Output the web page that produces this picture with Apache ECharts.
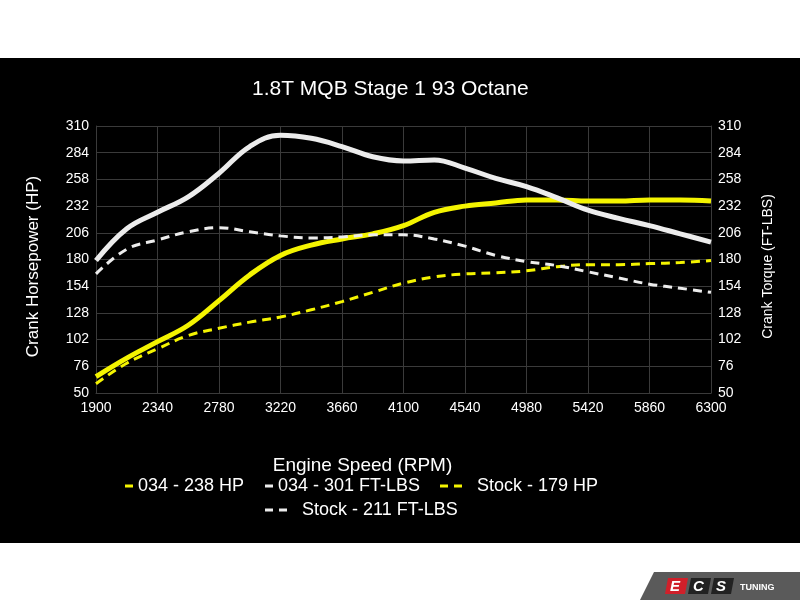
<!DOCTYPE html>
<html>
<head>
<meta charset="utf-8">
<script src="https://cdn.jsdelivr.net/npm/echarts@6/dist/echarts.min.js"></script>
<style>
  html, body { margin: 0; padding: 0; background: #ffffff; }
  #chart { width: 800px; height: 600px; }
</style>
</head>
<body>
<div id="chart"></div>
<script>
// engine speed samples (rpm)
var rpm = [1900, 2120, 2340, 2560, 2780, 3000, 3220, 3440, 3660, 3880, 4100,
           4320, 4540, 4760, 4980, 5200, 5420, 5640, 5860, 6080, 6300];

var hp034     = [66, 84, 100, 116, 140, 165, 184, 194, 200, 205, 213,
                 226, 232, 235, 238, 238, 237, 237, 238, 238, 237];
var tq034     = [179, 210, 226, 241, 264, 290, 301, 298, 290, 280, 276,
                 277, 269, 259, 251, 240, 228, 220, 213, 205, 197];
var hpStock   = [59, 79, 93, 106, 113, 119, 124, 131, 139, 148, 157,
                 163, 166, 167, 169, 173, 175, 175, 176, 177, 179];
var tqStock   = [166, 190, 199, 207, 211, 207, 203, 201, 202, 204, 204,
                 200, 193, 184, 178, 174, 168, 162, 156, 152, 148];

var seriesNames = ['034 - 238 HP', '034 - 301 FT-LBS', 'Stock - 179 HP', 'Stock - 211 FT-LBS'];

function pairs(ys) {
    return rpm.map(function (x, i) { return [x, ys[i]]; });
}

var YELLOW = '#f4f400';
var WHITE = '#ececec';
var FONT = 'Liberation Sans, Arial, sans-serif';
var dashIcon = 'path://M0,0h8v3h-8z M14,0h8v3h-8z';

// one legend box per entry so they sit where the original has them
function legendItem(name, icon, left, top, iconW, textPad) {
    return {
        data: [{ name: name, icon: icon }],
        left: left,
        top: top,
        padding: 0,
        itemWidth: iconW,
        itemHeight: 3,
        itemGap: 0,
        textStyle: { color: '#ffffff', fontSize: 18, fontFamily: FONT, padding: [0, 0, 0, textPad] }
    };
}

var chart = echarts.init(document.getElementById('chart'), null, { renderer: 'canvas' });

var option = {
    backgroundColor: '#ffffff',
    textStyle: { fontFamily: FONT },
    graphic: [
        {
            type: 'rect', z: -10, silent: true,
            shape: { x: 0, y: 58, width: 800, height: 485 },
            style: { fill: '#000000' }
        },
        {
            type: 'group', left: 640, top: 572, silent: true,
            children: [
                { type: 'polygon', shape: { points: [[14, 0], [160, 0], [160, 28], [0, 28]] }, style: { fill: '#5a5a5a' } },
                { type: 'polygon', shape: { points: [[28, 6], [48, 6], [45, 22], [25, 22]] }, style: { fill: '#d0202a' } },
                { type: 'text', style: { x: 30, y: 7, text: 'E', fill: '#ffffff', font: 'italic bold 15px ' + FONT } },
                { type: 'polygon', shape: { points: [[51, 6], [71, 6], [68, 22], [48, 22]] }, style: { fill: '#222222' } },
                { type: 'text', style: { x: 53, y: 7, text: 'C', fill: '#ffffff', font: 'italic bold 15px ' + FONT } },
                { type: 'polygon', shape: { points: [[74, 6], [94, 6], [91, 22], [71, 22]] }, style: { fill: '#222222' } },
                { type: 'text', style: { x: 76, y: 7, text: 'S', fill: '#ffffff', font: 'italic bold 15px ' + FONT } },
                { type: 'text', style: { x: 100, y: 11, text: 'TUNING', fill: '#ffffff', font: 'bold 9px ' + FONT } }
            ]
        }
    ],
    title: {
        text: '1.8T MQB Stage 1 93 Octane',
        left: 252,
        top: 79,
        padding: 0,
        textStyle: { color: '#ffffff', fontSize: 21, fontWeight: 'normal', fontFamily: FONT }
    },
    legend: [
        legendItem(seriesNames[0], 'rect', 125, 477, 8, 0),
        legendItem(seriesNames[1], 'rect', 265, 477, 8, 0),
        legendItem(seriesNames[2], dashIcon, 440, 477, 22, 10),
        legendItem(seriesNames[3], dashIcon, 265, 501, 22, 10)
    ],
    grid: { left: 96, right: 89, top: 126, bottom: 207 },
    xAxis: {
        type: 'value',
        min: 1900,
        max: 6300,
        interval: 440,
        name: 'Engine Speed (RPM)',
        nameLocation: 'middle',
        nameGap: 63,
        nameTextStyle: { color: '#ffffff', fontSize: 19, fontFamily: FONT, padding: [0, 82, 0, 0] },
        axisLine: { lineStyle: { color: '#3a3a3a' } },
        axisTick: { show: false },
        axisLabel: {
            color: '#ffffff', fontSize: 14, margin: 8,
            formatter: function (v) { return String(v); }
        },
        splitLine: { show: true, lineStyle: { color: '#3a3a3a', width: 1 } }
    },
    yAxis: [
        {
            type: 'value',
            min: 50,
            max: 310,
            interval: 26,
            name: 'Crank Horsepower (HP)',
            nameLocation: 'middle',
            nameRotate: 90,
            nameGap: 54,
            nameTextStyle: { color: '#ffffff', fontSize: 17, fontFamily: FONT, padding: [0, 14, 0, 0] },
            axisLine: { show: true, lineStyle: { color: '#3a3a3a' } },
            axisTick: { show: false },
            axisLabel: { color: '#ffffff', fontSize: 14, margin: 7 },
            splitLine: { show: true, lineStyle: { color: '#3a3a3a', width: 1 } }
        },
        {
            type: 'value',
            min: 50,
            max: 310,
            interval: 26,
            position: 'right',
            name: 'Crank Torque (FT-LBS)',
            nameLocation: 'middle',
            nameRotate: 90,
            nameGap: 50,
            nameTextStyle: { color: '#ffffff', fontSize: 14, fontFamily: FONT, padding: [0, 14, 0, 0] },
            axisLine: { show: true, lineStyle: { color: '#3a3a3a' } },
            axisTick: { show: false },
            axisLabel: { color: '#ffffff', fontSize: 14, margin: 7 },
            splitLine: { show: false }
        }
    ],
    series: [
        {
            name: seriesNames[0], type: 'line', smooth: 0.4, showSymbol: false,
            data: pairs(hp034),
            itemStyle: { color: YELLOW },
            lineStyle: { color: YELLOW, width: 5 }
        },
        {
            name: seriesNames[1], type: 'line', smooth: 0.4, showSymbol: false, yAxisIndex: 1,
            data: pairs(tq034),
            itemStyle: { color: WHITE },
            lineStyle: { color: WHITE, width: 5 }
        },
        {
            name: seriesNames[2], type: 'line', smooth: 0.4, showSymbol: false,
            data: pairs(hpStock),
            itemStyle: { color: YELLOW },
            lineStyle: { color: YELLOW, width: 3, type: [9, 6] }
        },
        {
            name: seriesNames[3], type: 'line', smooth: 0.4, showSymbol: false, yAxisIndex: 1,
            data: pairs(tqStock),
            itemStyle: { color: WHITE },
            lineStyle: { color: WHITE, width: 3, type: [9, 6] }
        }
    ]
};

chart.setOption(option);
window.addEventListener('resize', chart.resize);
</script>
</body>
</html>
